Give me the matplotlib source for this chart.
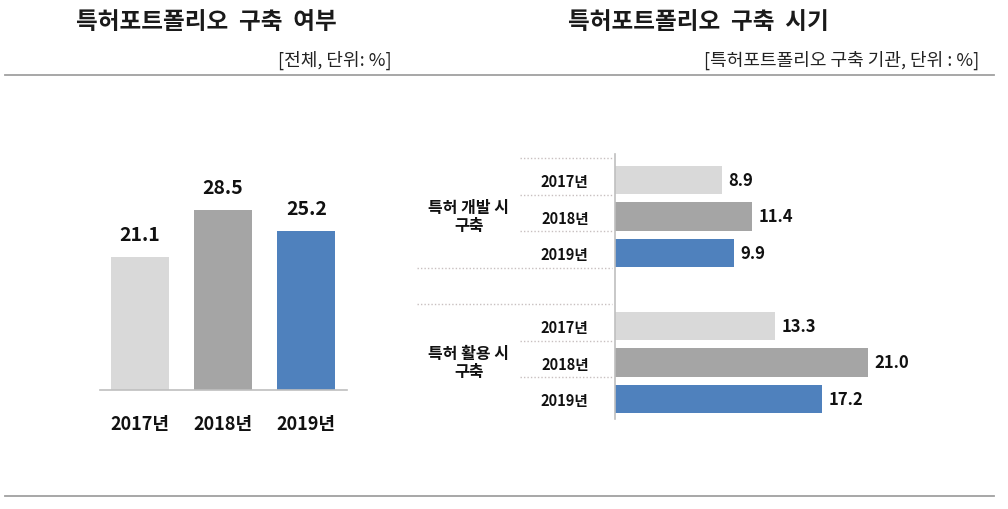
import matplotlib
matplotlib.use('Agg')
import matplotlib.pyplot as plt
import matplotlib.transforms as mtransforms
from matplotlib.lines import Line2D

plt.rcParams['font.family'] = ['Noto Sans CJK KR', 'DejaVu Sans']

# data
years = ['2017년', '2018년', '2019년']
built = [21.1, 28.5, 25.2]
groups = ['특허 개발 시\n구축', '특허 활용 시\n구축']
dev_values = [8.9, 11.4, 9.9]
use_values = [13.3, 21.0, 17.2]
bar_colors = ['#d9d9d9', '#a5a5a5', '#4f81bd']

W, H = 1008, 510
fig = plt.figure(figsize=(W / 100, H / 100), dpi=100)


def px_axes(x0, y0, x1, y1):
    # pixel box (top-left origin) -> figure axes
    return fig.add_axes([x0 / W, 1 - y1 / H, (x1 - x0) / W, (y1 - y0) / H])


# titles and rules
fig.text(206 / W, 1 - 22 / H, '특허포트폴리오  구축  여부', ha='center', va='center',
         fontsize=17, fontweight='bold', color='#1a1a1a')
fig.text(392 / W, 1 - 60 / H, '[전체, 단위: %]', ha='right', va='center',
         fontsize=13, color='#222222')
fig.text(698 / W, 1 - 22 / H, '특허포트폴리오  구축  시기', ha='center', va='center',
         fontsize=17, fontweight='bold', color='#1a1a1a')
fig.text(979 / W, 1 - 60 / H, '[특허포트폴리오 구축 기관, 단위 : %]', ha='right', va='center',
         fontsize=13, color='#222222')
for yy in (76, 497):
    fig.add_artist(Line2D([5 / W, 994 / W], [1 - yy / H, 1 - yy / H],
                          color='#a0a0a0', lw=1.3, transform=fig.transFigure))

# left: column chart
ax1 = px_axes(100, 160, 347, 391)
x = range(len(years))
ax1.bar(x, built, width=0.7, color=bar_colors)
ax1.set_xlim(-0.48, 2.49)
ax1.set_ylim(0, 36.55)
for xi, v in zip(x, built):
    ax1.text(xi, v + 2.0, f'{v:.1f}', ha='center', va='bottom',
             fontsize=14, fontweight='bold', color='#111111')
ax1.set_xticks(list(x))
ax1.set_xticklabels(years, fontsize=13, fontweight='bold', color='#111111')
ax1.tick_params(axis='x', length=0, pad=17)
ax1.set_yticks([])
for s in ('top', 'right', 'left'):
    ax1.spines[s].set_visible(False)
ax1.spines['bottom'].set_color('#bfbfbf')
ax1.spines['bottom'].set_linewidth(1.2)

# right: horizontal bars
ax2 = px_axes(615, 155, 976, 420)
pos_dev = [0, 1, 2]
pos_use = [4, 5, 6]
ax2.barh(pos_dev, dev_values, height=0.78, color=bar_colors)
ax2.barh(pos_use, use_values, height=0.78, color=bar_colors)
ax2.set_xlim(0, 30)
ax2.set_ylim(6.55, -0.71)
for p, v in zip(pos_dev + pos_use, dev_values + use_values):
    ax2.text(v + 0.55, p, f'{v:.1f}', ha='left', va='center',
             fontsize=12, fontweight='bold', color='#111111')
ax2.set_xticks([])
ax2.set_yticks(pos_dev + pos_use)
ax2.set_yticklabels(years + years, fontsize=10.5, fontweight='bold', color='#111111')
ax2.tick_params(axis='y', length=0, pad=19)
for s in ('top', 'right', 'bottom'):
    ax2.spines[s].set_visible(False)
ax2.spines['left'].set_color('#bfbfbf')
ax2.spines['left'].set_linewidth(1.2)

# category group labels and dotted dividers
tr = mtransforms.blended_transform_factory(fig.transFigure, ax2.transData)
for g, pos in zip(groups, (pos_dev, pos_use)):
    ax2.text(469 / W, pos[1], g, transform=tr, ha='center', va='center',
             fontsize=11.5, fontweight='bold', color='#111111', linespacing=1.15)
short = [-0.6, 0.4, 1.4, 4.4, 5.4]
full = [2.4, 3.4]
for yy in short:
    ax2.add_line(Line2D([520 / W, 612 / W], [yy, yy], transform=tr, clip_on=False,
                        color='#c8c0c0', lw=1, linestyle=(0, (1, 1.5))))
for yy in full:
    ax2.add_line(Line2D([417 / W, 612 / W], [yy, yy], transform=tr, clip_on=False,
                        color='#c8c0c0', lw=1, linestyle=(0, (1, 1.5))))

fig.savefig('out.png', dpi=100)
